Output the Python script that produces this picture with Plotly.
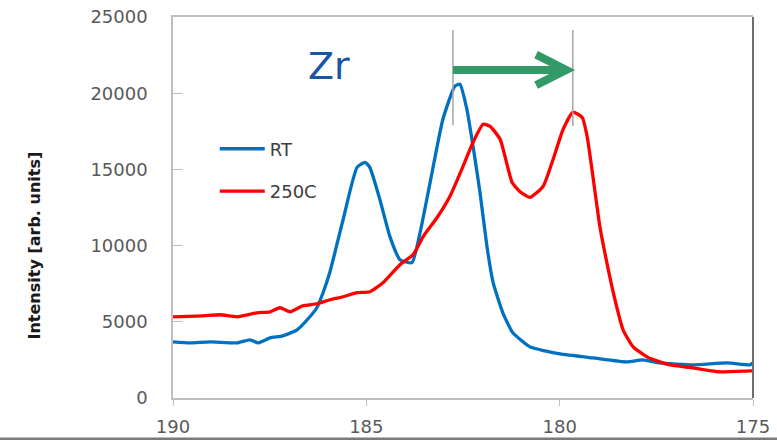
import plotly.graph_objects as go
import numpy as np

# Binding energy (eV) and intensity (arb. units)
be_rt = [190.00, 189.56, 189.04, 188.34, 188.01, 187.80, 187.49, 187.16, 186.79, 186.46,
         186.28, 186.12, 185.94, 185.60, 185.24, 185.03, 184.91, 184.65, 184.39, 184.13,
         183.82, 183.61, 183.35, 183.02, 182.71, 182.58, 182.40, 182.24, 182.06, 181.88,
         181.72, 181.47, 181.21, 180.77, 180.38, 179.99, 179.14, 178.26, 177.85, 177.41,
         176.55, 175.67, 175.08, 175.00]
int_rt = [3684, 3618, 3684, 3618, 3816, 3618, 3947, 4079, 4474, 5329,
          5921, 6908, 8289, 11711, 15132, 15461, 15132, 13026, 10592, 9079,
          8882, 10855, 14145, 18290, 20461, 20592, 18947, 16513, 13487, 9934,
          7566, 5592, 4276, 3355, 3092, 2895, 2632, 2368, 2500, 2303,
          2171, 2303, 2171, 2303]

be_250 = [190.00, 189.22, 188.78, 188.34, 187.83, 187.49, 187.23, 186.97, 186.64, 186.28,
          185.94, 185.60, 185.24, 184.91, 184.57, 184.13, 183.79, 183.53, 183.17, 182.84,
          182.50, 182.24, 181.98, 181.80, 181.54, 181.23, 181.03, 180.77, 180.43, 180.17,
          179.91, 179.66, 179.42, 179.29, 179.14, 178.96, 178.78, 178.57, 178.36, 178.10,
          177.74, 177.41, 177.15, 176.55, 175.85, 175.08, 175.00]
int_250 = [5329, 5395, 5461, 5329, 5592, 5658, 5921, 5658, 6053, 6184,
           6447, 6645, 6908, 6974, 7566, 8750, 9408, 10592, 11842, 13224,
           15197, 16776, 17961, 17829, 16974, 14145, 13553, 13158, 13882, 15658,
           17632, 18750, 18421, 17171, 14539, 11250, 8882, 6447, 4474, 3355,
           2697, 2368, 2171, 1974, 1711, 1776, 1776]

x_ticks = [190, 185, 180, 175]
y_ticks = [0, 5000, 10000, 15000, 20000, 25000]

FONT = "DejaVu Sans"

fig = go.Figure()
fig.add_trace(go.Scatter(x=be_rt, y=int_rt, mode="lines", name="RT", legendgroup="a",
                         line=dict(color="#0070C0", width=3.3, shape="spline", smoothing=0.5)))
fig.add_trace(go.Scatter(x=be_250, y=int_250, mode="lines", name="250C", legendgroup="b",
                         line=dict(color="#FF0000", width=3.3, shape="spline", smoothing=0.5)))

# peak positions marked by the grey lines
pk_rt = be_rt[int(np.argmax(int_rt))]
i2 = [i for i, b in enumerate(be_250) if b < 180.5]
pk_250 = be_250[max(i2, key=lambda i: int_250[i])]

shapes = []
for xv, ytop, ybot in [(pk_rt + 0.18, 24150, 17900), (pk_250, 24150, 17850)]:
    shapes.append(dict(type="line", xref="x", yref="y", x0=xv, x1=xv, y0=ybot, y1=ytop,
                       line=dict(color="#A6A6A6", width=1.5)))

# green arrow
ya = 21530
x_start = pk_rt + 0.18
x_tip = pk_250 + 0.17
shapes.append(dict(type="path", xref="x", yref="y",
                   path=f"M{x_start},{ya} L{x_tip + 0.08},{ya}",
                   line=dict(color="#339966", width=8)))
shapes.append(dict(type="path", xref="x", yref="y",
                   path=f"M{x_tip + 0.78},{ya + 1000} L{x_tip},{ya} L{x_tip + 0.78},{ya - 1000}",
                   line=dict(color="#339966", width=8)))

# right dark border and bottom dark slide line
shapes.append(dict(type="line", xref="paper", yref="paper", x0=1, x1=1, y0=0, y1=1,
                   line=dict(color="#6E6E6E", width=2)))
shapes.append(dict(type="line", xref="paper", yref="paper", x0=-0.31, x1=1.05,
                   y0=-0.1075, y1=-0.1075, line=dict(color="#7A7A7A", width=3)))

fig.update_layout(
    width=777, height=440,
    margin=dict(l=173, r=24, t=17, b=42, autoexpand=False),
    paper_bgcolor="white", plot_bgcolor="white",
    shapes=shapes,
    showlegend=True,
    legend=dict(x=0.072, y=0.702, xanchor="left", yanchor="top",
                font=dict(family=FONT, size=18, color="#404040"),
                tracegroupgap=16, itemwidth=45, bgcolor="rgba(0,0,0,0)"),
    annotations=[
        dict(text="Zr", xref="paper", yref="paper", x=(329 - 173) / 580, y=(398 - 66) / 381,
             showarrow=False, font=dict(family=FONT, size=38, color="#1A55A3"),
             xanchor="center", yanchor="middle"),
        dict(text="<b>Intensity [arb. units]</b>", xref="paper", yref="paper",
             x=(33.5 - 173) / 580, y=(398 - 246) / 381, textangle=-90, showarrow=False,
             font=dict(family=FONT, size=16, color="#1A1A1A"),
             xanchor="center", yanchor="middle"),
    ],
)

fig.update_xaxes(range=[190, 175], tickvals=x_ticks, ticktext=[str(v) for v in x_ticks],
                 showgrid=False, zeroline=False, showline=True, linecolor="#BFBFBF",
                 linewidth=1.5, mirror=True, ticks="outside", ticklen=6, tickcolor="#BFBFBF",
                 ticklabelstandoff=6, automargin=False,
                 tickfont=dict(family=FONT, size=18, color="#595959"))
fig.update_yaxes(range=[0, 25000], tickvals=y_ticks, ticktext=[str(v) for v in y_ticks],
                 showgrid=False, zeroline=False, showline=True, linecolor="#BFBFBF",
                 linewidth=1.5, ticks="inside", ticklen=9, tickcolor="#BFBFBF",
                 ticklabelstandoff=20, automargin=False,
                 tickfont=dict(family=FONT, size=18, color="#595959"))

fig.write_html("out.html", config={"displayModeBar": False},
               post_script="document.body.style.margin='0';document.body.style.overflow='hidden';")
